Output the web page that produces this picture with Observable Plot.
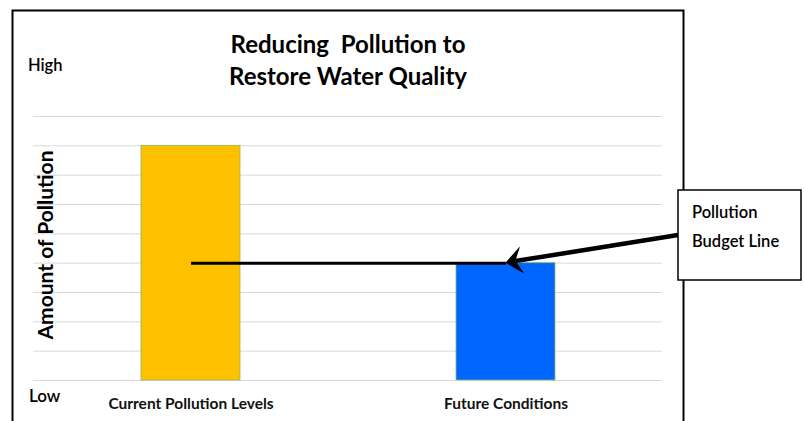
<!DOCTYPE html>
<html>
<head>
<meta charset="utf-8">
<script src="https://cdn.jsdelivr.net/npm/d3@7"></script>
<script src="https://cdn.jsdelivr.net/npm/@observablehq/plot@0.6"></script>
<style>
  html, body { margin: 0; padding: 0; background: #fff; }
  svg { display: block; }
</style>
</head>
<body>
<div id="chart"></div>
<script>
const categories = ["Current Pollution Levels", "Future Conditions"];
const values = [8, 4];
const colors = ["#FFC000", "#0066FF"];
const budgetLevel = 4;
const gridLevels = [0, 1, 2, 3, 4, 5, 6, 7, 8, 9];
const titleLines = ["Reducing  Pollution to", "Restore Water Quality"];
const yLabel = "Amount of Pollution";
const highLabel = "High";
const lowLabel = "Low";
const calloutLines = ["Pollution", "Budget Line"];

const FONT = "Lato, 'Open Sans', sans-serif";
const data = categories.map((c, i) => ({category: c, value: values[i], color: colors[i]}));

const plot = Plot.plot({
  width: 804,
  height: 421,
  marginLeft: 33,
  marginRight: 142,
  marginTop: 116,
  marginBottom: 41,
  style: {fontFamily: FONT, background: "white"},
  x: {domain: categories, paddingInner: 0.686, paddingOuter: 0.341, label: null},
  y: {domain: [0, 9], label: null, axis: null},
  marks: [
    Plot.ruleY(gridLevels, {stroke: "#d9d9d9", strokeWidth: 1}),
    Plot.barY(data, {x: "category", y: "value", fill: "color", stroke: "#8dbb5e", strokeWidth: 0.8}),
    Plot.link([{a: categories[0], b: categories[1], v: budgetLevel}], {
      x1: "a", x2: "b", y1: "v", y2: "v", stroke: "black", strokeWidth: 3
    }),
    Plot.axisX({tickSize: 0, tickPadding: 17, fontSize: 15.5, fontWeight: "bold", fill: "#111"})
  ]
});

document.getElementById("chart").appendChild(plot);

const svg = d3.select(plot);
const xs = plot.scale("x");
const ys = plot.scale("y");
const bw = xs.bandwidth;
const xRight = xs.range[1];
const tipX = xs.apply(categories[1]) + bw / 2;
const tipY = ys.apply(budgetLevel);

// outer frame
svg.append("rect")
  .attr("x", 12.5).attr("y", 10.5)
  .attr("width", 671).attr("height", 440)
  .attr("fill", "none").attr("stroke", "black").attr("stroke-width", 2);

// title
svg.append("text")
  .attr("text-anchor", "middle")
  .attr("font-family", FONT).attr("font-weight", "bold").attr("font-size", 24)
  .selectAll("tspan").data(titleLines).join("tspan")
  .attr("x", 348).attr("y", (d, i) => 53 + i * 32)
  .text(d => d);

// High / Low
svg.append("text").attr("x", 28).attr("y", 71).attr("text-anchor", "start")
  .attr("font-family", FONT).attr("font-size", 16.5).attr("font-weight", 600).text(highLabel);
svg.append("text").attr("x", 29).attr("y", 402).attr("text-anchor", "start")
  .attr("font-family", FONT).attr("font-size", 17).attr("font-weight", 600).text(lowLabel);

// Y label
svg.append("text")
  .attr("transform", "translate(53,245) rotate(-90)")
  .attr("text-anchor", "middle")
  .attr("font-family", FONT).attr("font-weight", "bold").attr("font-size", 21)
  .text(yLabel);

// callout arrow
const startX = xRight + 16;
const startY = ys.apply(4.94);
const ang = Math.atan2(tipY - startY, tipX - startX);
const ux = Math.cos(ang), uy = Math.sin(ang);
const px = -uy, py = ux;
const headLen = 17, headHalf = 14, notch = 10;
const notchX = tipX - notch * ux, notchY = tipY - notch * uy;
const backX = tipX - headLen * ux, backY = tipY - headLen * uy;
svg.append("line")
  .attr("x1", startX).attr("y1", startY).attr("x2", notchX).attr("y2", notchY)
  .attr("stroke", "black").attr("stroke-width", 4.5);
svg.append("polygon")
  .attr("points", [
    [tipX, tipY],
    [backX + px * headHalf, backY + py * headHalf],
    [notchX, notchY],
    [backX - px * headHalf, backY - py * headHalf]
  ].map(p => p.join(",")).join(" "))
  .attr("fill", "black");

// callout box
const boxX = startX, boxY = 190;
svg.append("rect")
  .attr("x", boxX).attr("y", boxY).attr("width", 123).attr("height", 90)
  .attr("fill", "white").attr("stroke", "black").attr("stroke-width", 1.5);
svg.append("text")
  .attr("text-anchor", "start")
  .attr("font-family", FONT).attr("font-size", 16.5).attr("font-weight", 600)
  .selectAll("tspan").data(calloutLines).join("tspan")
  .attr("x", boxX + 14).attr("y", (d, i) => 218 + i * 29)
  .text(d => d);
</script>
</body>
</html>
